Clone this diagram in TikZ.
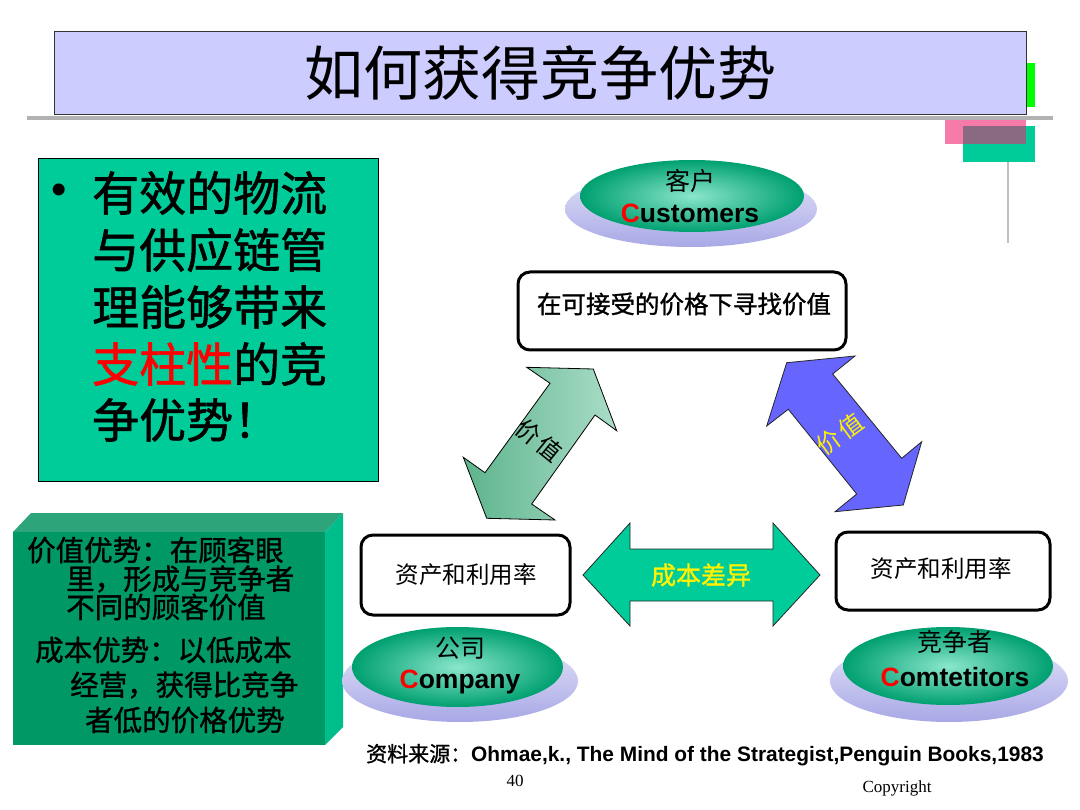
\documentclass[tikz,border=0pt]{standalone}
\usepackage{fontspec}
\setmainfont{Liberation Sans}
\newfontfamily\cjk{Noto Sans CJK SC}
\newfontfamily\cjkb{Noto Sans CJK SC}[FakeBold=1.2]
\newfontfamily\tnr{Liberation Serif}
\definecolor{titlefill}{HTML}{CCCCFF}
\definecolor{boxgreen}{HTML}{00CC99}
\definecolor{frontG}{HTML}{009966}
\definecolor{topG}{HTML}{2EA47A}
\definecolor{rightG}{HTML}{00BE8C}
\definecolor{blueA}{HTML}{6666FF}
\definecolor{pinkD}{HTML}{F77BA8}
\definecolor{overD}{HTML}{8A6A82}
\definecolor{brightG}{HTML}{00FF00}
\definecolor{gIn}{HTML}{8AE6CC}
\definecolor{gOut}{HTML}{00A070}
\definecolor{shTop}{HTML}{E4E4FA}
\definecolor{shBot}{HTML}{A8A8E6}
\definecolor{arrL}{HTML}{5DB48C}
\definecolor{arrR}{HTML}{AADDC8}
\begin{document}
\begin{tikzpicture}[x=1pt,y=-1pt,
  cjktxt/.style={inner sep=0pt, font=\cjk},
  rbox/.style={draw=black, line width=3pt, rounded corners=12pt, fill=white, inner sep=0pt},
  entxt/.style={inner sep=0pt, font=\bfseries\fontsize{26.5}{26.5}\selectfont},
  bigline/.style={inner sep=0pt, anchor=west, font=\cjkb\fontsize{47}{47}\selectfont},
  smline/.style={inner sep=0pt, anchor=west, font=\cjkb\fontsize{28.5}{28.5}\selectfont}
]
\useasboundingbox (0,0) rectangle (1080,810);
\fill[white] (0,0) rectangle (1080,810);

% decorations top right
\draw[line width=1.2pt, black!25] (1008,117) -- (1008,243);
\fill[brightG] (1026,63) rectangle (1035,107);
\fill[pinkD] (945,117) rectangle (1026,144);
\fill[boxgreen] (963,126) rectangle (1035,162);
\fill[overD] (963,126) rectangle (1026,144);
\draw[line width=4pt, black!30] (27,118) -- (1053,118);

% title
\node[draw=black!80, line width=1pt, fill=titlefill, minimum width=972pt, minimum height=83pt, inner sep=0pt] (titlebox) at (540,73.5) {};
\node[cjktxt, font=\cjk\fontsize{59}{59}\selectfont] (title) at (540,73) {如何获得竞争优势};

% top-left green box
\node[draw=black, line width=0.8pt, fill=boxgreen, minimum width=340pt, minimum height=323pt, inner sep=0pt] (gbox) at (208,319.5) {};
\node[inner sep=0pt, font=\fontsize{44}{44}\selectfont] (bul) at (59,194) {•};
\node[bigline] (l1) at (92,193) {有效的物流};
\node[bigline] (l2) at (92,250) {与供应链管};
\node[bigline] (l3) at (92,307) {理能够带来};
\node[bigline] (l4) at (92,364) {{\color{red}支柱性}的竞};
\node[bigline] (l5) at (92,420) {争优势！};

% bottom-left 3D box
\fill[topG] (13,532) -- (31,513) -- (343,513) -- (325,532) -- cycle;
\fill[rightG] (325,532) -- (343,513) -- (343,727) -- (325,745) -- cycle;
\fill[frontG] (13,532) rectangle (325,745);
\node[smline] (b1) at (27,550) {价值优势：在顾客眼};
\node[smline] (b2) at (66,579) {里，形成与竞争者};
\node[smline] (b3) at (66,607) {不同的顾客价值};
\node[smline] (b4) at (35,650) {成本优势：以低成本};
\node[smline] (b5) at (70,685) {经营，获得比竞争};
\node[smline] (b6) at (85,720) {者低的价格优势};

% ellipses
\shade[top color=shTop, bottom color=shBot] (691,209) ellipse [x radius=126, y radius=38];
\shade[inner color=gIn, outer color=gOut] (692,196) ellipse [x radius=112, y radius=36];
\node[cjktxt, font=\cjk\fontsize{25}{25}\selectfont] (custcn) at (690,181) {客户};
\node[entxt] (custen) at (690,213) {{\color{red}C}ustomers};

\shade[top color=shTop, bottom color=shBot] (460,681) ellipse [x radius=118, y radius=41];
\shade[inner color=gIn, outer color=gOut] (457.5,667) ellipse [x radius=105.5, y radius=40];
\node[cjktxt, font=\cjk\fontsize{25}{25}\selectfont] (compcn) at (460,648) {公司};
\node[entxt] (compen) at (460,682) {{\color{red}C}ompany};

\shade[top color=shTop, bottom color=shBot] (949,681) ellipse [x radius=119, y radius=41];
\shade[inner color=gIn, outer color=gOut] (948,666) ellipse [x radius=105, y radius=39];
\node[cjktxt, font=\cjk\fontsize{25}{25}\selectfont] (rivcn) at (955,642) {竞争者};
\node[entxt] (riven) at (955,677) {{\color{red}C}omtetitors};

% rounded boxes
\node[rbox, minimum width=328pt, minimum height=78pt] (topbox) at (682,311) {};
\node[cjktxt, font=\cjkb\fontsize{24.5}{24.5}\selectfont] (toptxt) at (684,304) {在可接受的价格下寻找价值};
\node[rbox, minimum width=209pt, minimum height=80pt] (compbox) at (465.5,575) {};
\node[cjktxt, font=\cjk\fontsize{23.5}{23.5}\selectfont] (comptxt) at (466,575) {资产和利用率};
\node[rbox, minimum width=214pt, minimum height=78pt] (rivbox) at (943,571) {};
\node[cjktxt, font=\cjk\fontsize{23.5}{23.5}\selectfont] (rivtxt) at (941,569) {资产和利用率};

% middle double arrow
\filldraw[fill=boxgreen, draw=black!85, line width=0.8pt]
  (583,575) -- (630,523) -- (630,549) -- (773,549) -- (773,523) -- (820,575)
  -- (773,626) -- (773,601) -- (630,601) -- (630,626) -- cycle;
\node[cjktxt, font=\cjkb\fontsize{25}{25}\selectfont, text=yellow] (costtxt) at (701,575) {成本差异};

% left diagonal arrow
\shadedraw[left color=arrL, right color=arrR, draw=black, line width=0.8pt]
  (526.7,367.3) -- (593.3,369) -- (616.7,430.7) -- (595,415) -- (531.7,504)
  -- (555,520) -- (486.7,518.3) -- (463.3,457.3) -- (485,472.7) -- (550,383.3) -- cycle;
\node[cjktxt, font=\cjk\fontsize{24}{24}\selectfont, rotate=-39] (lval) at (539,441) {价\hspace{3pt}值};

% right diagonal arrow
\filldraw[fill=blueA, draw=black!85, line width=0.8pt]
  (786.7,362.7) -- (855,356) -- (832.7,374) -- (901.7,458.3) -- (921.7,441.7)
  -- (903.3,505) -- (835,511.7) -- (856.7,494) -- (788.3,409.3) -- (766.7,426) -- cycle;
\node[cjktxt, font=\cjk\fontsize{24}{24}\selectfont, rotate=36, text=yellow] (rval) at (840,434) {价\hspace{3pt}值};

% footer
\node[inner sep=0pt, anchor=west] (src) at (366,755) {\cjkb\fontsize{21}{21}\selectfont 资料来源：\normalfont\bfseries\fontsize{20.9}{20.9}\selectfont Ohmae,k., The Mind of the Strategist,Penguin Books,1983};
\node[inner sep=0pt, font=\tnr\fontsize{17}{17}\selectfont] (pg) at (515,781) {40};
\node[inner sep=0pt, font=\tnr\fontsize{17}{17}\selectfont] (copy) at (897,788) {Copyright};
\end{tikzpicture}
\end{document}
